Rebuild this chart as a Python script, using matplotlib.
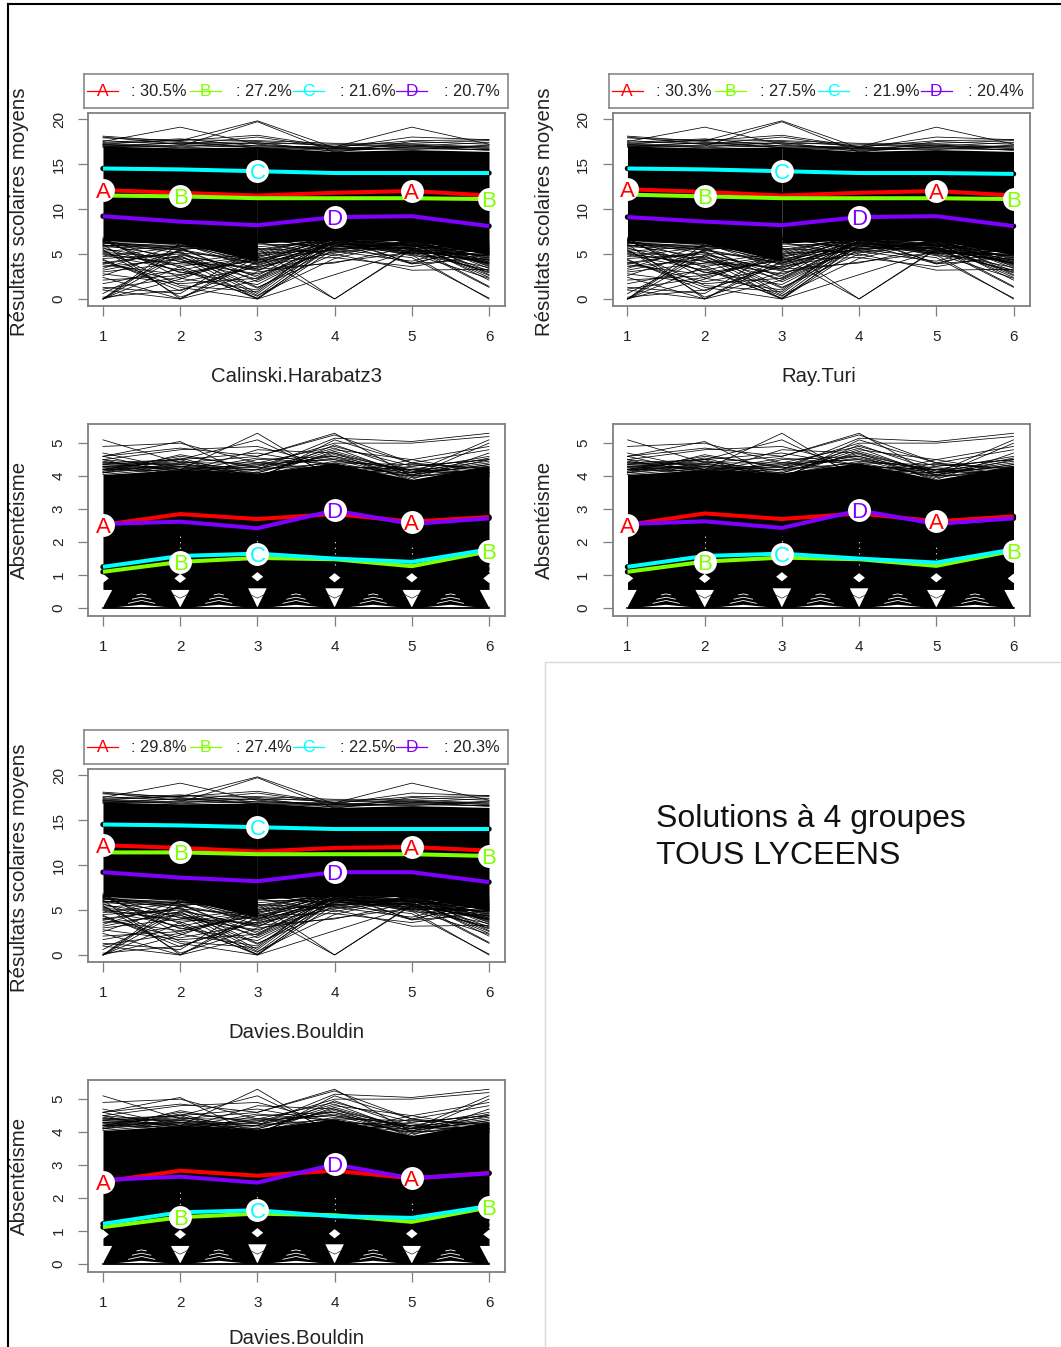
import matplotlib
matplotlib.use("Agg")
import matplotlib.pyplot as plt
from matplotlib.lines import Line2D

plt.rcParams['font.family'] = ['Liberation Sans', 'DejaVu Sans']

W, H = 1061, 1347

letters = ["A", "B", "C", "D"]
colors = ["#FF0000", "#80FF00", "#00FFFF", "#8000FF"]
x_ticks = [1, 2, 3, 4, 5, 6]

# percent of each group, per solution
pct_calinski = ["30.5", "27.2", "21.6", "20.7"]
pct_rayturi = ["30.3", "27.5", "21.9", "20.4"]
pct_davies = ["29.8", "27.4", "22.5", "20.3"]

# group means, results
res_calinski = [[12.1, 11.8, 11.5, 11.8, 12.0, 11.5],
                [11.5, 11.4, 11.2, 11.2, 11.2, 11.1],
                [14.5, 14.4, 14.2, 14.0, 14.0, 14.0],
                [9.2, 8.6, 8.2, 9.1, 9.2, 8.1]]
res_rayturi = [[12.2, 11.9, 11.5, 11.8, 12.0, 11.5],
               [11.6, 11.4, 11.2, 11.2, 11.2, 11.1],
               [14.5, 14.4, 14.2, 14.0, 14.0, 13.9],
               [9.1, 8.6, 8.2, 9.1, 9.2, 8.1]]
res_davies = [[12.2, 11.9, 11.5, 11.9, 12.0, 11.6],
              [11.4, 11.4, 11.2, 11.2, 11.2, 11.0],
              [14.5, 14.4, 14.2, 14.0, 14.0, 14.0],
              [9.2, 8.6, 8.2, 9.2, 9.2, 8.1]]

# group means, absenteeism
abs_calinski = [[2.52, 2.85, 2.70, 2.85, 2.62, 2.76],
                [1.10, 1.40, 1.52, 1.48, 1.27, 1.72],
                [1.25, 1.58, 1.65, 1.50, 1.40, 1.78],
                [2.55, 2.62, 2.42, 2.96, 2.55, 2.72]]
abs_rayturi = [[2.52, 2.87, 2.70, 2.87, 2.63, 2.78],
               [1.10, 1.41, 1.53, 1.48, 1.28, 1.74],
               [1.25, 1.58, 1.65, 1.50, 1.38, 1.78],
               [2.55, 2.63, 2.43, 2.96, 2.55, 2.72]]
abs_davies = [[2.50, 2.83, 2.68, 2.83, 2.60, 2.76],
              [1.12, 1.42, 1.53, 1.48, 1.28, 1.72],
              [1.22, 1.57, 1.63, 1.45, 1.40, 1.76],
              [2.55, 2.65, 2.47, 3.02, 2.60, 2.75]]

# solid mass of individual profiles
res_top = [17.0, 16.8, 16.9, 16.4, 16.6, 16.4]
res_bot_left = [6.5, 6.2, 4.2]
res_bot_right = [6.2, 6.6, 6.5, 4.9]
abs_top = [4.05, 4.2, 4.1, 4.4, 3.9, 4.3]

# white notches at the tick positions of the absenteeism panels
notch_x = [1, 2, 3, 4, 5, 6]
notch_top = [0.55, 0.55, 0.6, 0.6, 0.55, 0.55]
diamond_mid = [0.9, 0.9, 0.95, 0.92, 0.92, 0.9]
speck_top = [1.0, 2.2, 2.2, 2.1, 1.9, 1.0]

# white wedge and slits between ticks, as (half width, peak)
hat_half = [0.36, 0.17, 0.12, 0.06]
hat_peak = [0.10, 0.23, 0.33, 0.43]

# individual profiles visible outside the mass
res_thin = [
    [18.1, 17.5, 16.8, 16.5, 16.9, 17.0], [17.9, 17.6, 19.8, 16.8, 17.0, 16.5],
    [17.5, 19.1, 17.2, 16.7, 16.8, 16.6], [17.3, 17.6, 18.2, 16.9, 19.1, 17.2],
    [17.6, 17.2, 18.0, 16.8, 18.0, 17.7], [17.2, 17.7, 17.6, 17.3, 17.3, 17.6],
    [17.0, 17.0, 19.7, 16.3, 17.5, 17.2], [18.0, 17.2, 17.3, 17.2, 17.0, 17.4],
    [17.4, 17.8, 17.0, 16.9, 17.6, 17.7], [17.1, 17.3, 17.5, 17.0, 17.2, 16.9],
    [17.2, 16.8, 17.1, 16.6, 16.7, 16.6], [16.9, 17.1, 16.9, 16.8, 16.6, 17.1],
    [17.1, 16.9, 17.4, 16.4, 16.9, 16.8], [16.9, 17.4, 16.8, 16.7, 17.1, 16.7],
    [0.0, 6.2, 3.8, 6.2, 5.5, 4.0], [0.0, 5.6, 2.4, 6.5, 5.1, 3.2],
    [0.0, 4.8, 1.2, 5.8, 6.2, 2.6], [0.0, 3.6, 4.9, 6.7, 4.0, 5.9],
    [0.0, 2.2, 5.2, 7.0, 3.9, 6.0], [0.2, 1.0, 3.7, 6.3, 5.0, 2.3],
    [1.0, 0.0, 2.1, 5.9, 5.7, 1.3], [2.4, 0.0, 4.2, 6.8, 4.9, 0.0],
    [6.1, 0.0, 4.7, 0.0, 5.6, 6.2], [5.5, 0.2, 3.0, 4.1, 5.2, 3.5],
    [4.3, 1.3, 0.0, 2.7, 5.4, 3.0], [6.4, 3.5, 0.0, 5.6, 6.3, 2.1],
    [5.2, 4.5, 0.0, 6.2, 3.9, 4.6], [3.2, 4.8, 0.4, 4.5, 6.5, 3.8],
    [1.7, 3.3, 0.1, 6.0, 5.0, 5.4], [4.0, 5.3, 1.3, 5.0, 3.2, 3.3],
    [2.8, 1.7, 2.3, 6.5, 6.0, 4.3], [1.3, 0.6, 5.7, 0.0, 5.5, 4.8],
    [5.9, 6.2, 3.3, 4.0, 5.8, 2.9], [3.8, 2.7, 4.4, 4.6, 3.6, 5.0],
    [6.6, 4.1, 2.8, 5.3, 4.2, 6.4], [4.7, 5.8, 5.0, 7.1, 5.9, 1.4],
    [5.0, 3.9, 3.6, 5.1, 6.6, 4.1], [3.4, 6.0, 4.1, 6.4, 5.3, 5.6],
    [2.1, 2.6, 4.7, 6.9, 6.7, 3.6], [6.3, 5.1, 4.5, 5.5, 4.6, 0.1],
    [5.8, 5.5, 4.0, 6.6, 6.1, 5.2], [5.6, 4.2, 3.4, 6.1, 5.7, 3.9],
    [6.0, 4.6, 2.6, 7.0, 6.4, 4.5], [5.3, 5.9, 5.4, 6.7, 6.2, 4.7],
    [4.9, 3.2, 4.8, 5.7, 6.9, 5.3], [4.5, 5.0, 3.1, 6.9, 5.4, 4.2],
    [6.2, 5.7, 1.9, 5.9, 6.8, 2.7], [3.6, 4.4, 2.2, 6.3, 5.6, 5.7],
    [2.6, 5.4, 3.9, 7.2, 6.3, 3.1], [6.5, 2.9, 4.3, 6.8, 5.1, 4.9],
    [5.7, 3.0, 1.6, 6.0, 6.0, 5.5], [4.1, 1.9, 3.5, 6.4, 4.8, 4.4],
    [3.0, 4.0, 5.1, 5.4, 6.4, 3.7], [1.1, 2.4, 4.6, 6.6, 5.9, 5.1],
    [0.6, 4.9, 3.2, 6.2, 6.7, 3.4], [5.4, 1.5, 0.8, 7.1, 5.5, 4.0],
    [4.4, 0.9, 4.0, 5.6, 6.1, 2.4], [5.1, 3.7, 0.3, 6.5, 5.8, 5.8],
    [3.9, 5.2, 0.6, 6.8, 6.5, 4.4], [6.7, 2.3, 1.0, 6.9, 5.2, 5.0],
    [6.8, 6.4, 6.9, 5.4, 6.3, 4.6], [6.5, 6.1, 6.6, 6.1, 5.9, 5.2],
    [6.3, 5.8, 6.3, 4.8, 6.6, 3.9], [6.6, 6.0, 6.1, 5.9, 5.3, 4.8],
    [6.2, 6.3, 5.8, 6.5, 6.0, 5.6], [6.0, 5.6, 5.6, 5.2, 5.9, 4.3],
    [5.9, 5.9, 5.5, 6.8, 6.4, 5.3], [6.4, 5.4, 6.7, 5.6, 5.6, 4.1],
]
abs_thin = [
    [5.1, 4.4, 4.0, 4.1, 4.2, 4.0], [4.9, 5.0, 4.4, 4.2, 4.1, 4.3],
    [4.6, 5.05, 3.9, 4.0, 4.5, 4.1], [4.7, 4.2, 5.3, 3.9, 4.4, 4.2],
    [4.5, 4.8, 4.9, 4.3, 4.2, 4.1], [4.4, 4.5, 5.1, 4.0, 4.3, 4.5],
    [4.6, 4.85, 4.6, 5.3, 4.0, 4.1], [4.3, 4.4, 4.6, 5.25, 4.4, 4.0],
    [4.5, 4.3, 4.2, 5.15, 5.05, 5.3], [4.2, 4.6, 4.3, 5.0, 5.0, 5.2],
    [4.4, 4.2, 4.1, 4.8, 4.5, 4.9], [4.3, 4.1, 4.8, 4.7, 4.1, 5.1],
    [4.2, 4.3, 3.9, 5.1, 4.4, 4.8], [4.5, 4.0, 4.5, 4.6, 3.9, 4.7],
    [4.1, 4.4, 4.4, 4.9, 4.3, 4.5], [4.6, 4.1, 4.2, 4.4, 4.0, 5.0],
    [4.2, 4.5, 4.7, 4.3, 4.2, 4.6], [4.35, 4.25, 4.0, 4.75, 4.1, 4.4],
    [4.15, 4.35, 4.25, 4.55, 4.05, 4.35], [4.25, 4.45, 4.15, 4.65, 4.15, 4.45],
    [4.3, 4.2, 4.35, 4.5, 3.95, 4.25], [4.1, 4.3, 4.05, 4.45, 4.25, 4.15],
    [4.2, 4.15, 4.3, 4.6, 4.1, 4.55], [4.4, 4.35, 4.1, 4.7, 3.85, 4.3],
    [4.05, 4.25, 4.2, 4.85, 4.0, 4.2], [4.15, 4.55, 3.95, 4.95, 4.15, 4.05],
    [4.25, 4.05, 4.4, 4.5, 4.2, 4.1], [4.35, 4.5, 3.85, 4.4, 4.35, 4.25],
    [4.45, 4.15, 4.55, 4.35, 4.05, 4.35], [4.1, 4.65, 4.25, 4.25, 4.0, 4.5],
]


def px_rect(left, top, right, bottom):
    return [left / W, 1 - bottom / H, (right - left) / W, (bottom - top) / H]


def add_legend(left, top, pct):
    ax = plt.axes(px_rect(left, top, left + 424, top + 34))
    ax.set_xlim(0, 424)
    ax.set_ylim(0, 34)
    ax.set_xticks([])
    ax.set_yticks([])
    for s in ax.spines.values():
        s.set_color("#7f7f7f")
        s.set_linewidth(1.1)
    starts = [3, 106, 209, 312]
    text_x = [47, 152, 256, 360]
    for i in range(4):
        ax.plot([starts[i], starts[i] + 31], [17, 17], color=colors[i], lw=0.9)
        ax.text(starts[i] + 15.5, 16.5, letters[i], color=colors[i], fontsize=12.5,
                ha="center", va="center")
        ax.text(text_x[i], 16.5, f": {pct[i]}%", color="#222222", fontsize=11.8,
                ha="left", va="center")


def style_axes(ax, yticks, ylabel, ylabel_y=0.5):
    ax.set_xticks(x_ticks)
    ax.set_yticks(yticks)
    ax.tick_params(labelcolor="#222222", labelsize=11, length=7, width=0.9,
                   color="#7f7f7f")
    ax.tick_params(axis="x", pad=10.5)
    ax.tick_params(axis="y", pad=9)
    for lab in ax.get_yticklabels():
        lab.set_rotation(90)
        lab.set_va("center")
    for s in ax.spines.values():
        s.set_color("#7f7f7f")
        s.set_linewidth(1.3)
    ax.set_ylabel(ylabel, fontsize=14.7, color="#222222")
    ax.yaxis.set_label_coords(-0.141, ylabel_y)


def draw_groups(ax, means):
    for i in range(4):
        ax.plot(x_ticks, means[i], color="black", lw=3.9, solid_capstyle="round", zorder=4)
    for i in range(4):
        ax.plot(x_ticks, means[i], color=colors[i], lw=2.9, solid_capstyle="butt", zorder=5)
    marks = [[0, 4], [1, 5], [2], [3]]
    for i in range(4):
        for k in marks[i]:
            ax.plot(x_ticks[k], means[i][k], "o", ms=16.5, color="white", mec="none", zorder=6)
            ax.text(x_ticks[k], means[i][k], letters[i], color=colors[i], fontsize=16,
                    ha="center", va="center_baseline", zorder=7)


def results_panel(left, top, means, pct, label, label_x=0.5):
    add_legend(left - 4, top - 39, pct)
    ax = plt.axes(px_rect(left, top, left + 417, top + 193))
    ax.set_xlim(0.806, 6.207)
    ax.set_ylim(-0.78, 20.67)
    ax.fill_between(x_ticks[:3], res_bot_left, res_top[:3], color="black", lw=0, zorder=1)
    ax.fill_between(x_ticks[2:], res_bot_right, res_top[2:], color="black", lw=0, zorder=1)
    for row in res_thin:
        ax.plot(x_ticks, row, color="black", lw=0.55, zorder=2)
    draw_groups(ax, means)
    style_axes(ax, [0, 5, 10, 15, 20], "Résultats scolaires moyens", 0.49)
    ax.set_xlabel(label, fontsize=14.7, color="#222222", labelpad=16, x=label_x)


def absence_panel(left, top, means, label=None):
    ax = plt.axes(px_rect(left, top, left + 417, top + 192))
    ax.set_xlim(0.806, 6.207)
    ax.set_ylim(-0.24, 5.58)
    ax.fill_between(x_ticks, 0, abs_top, color="black", lw=0, zorder=1)
    for k in range(len(notch_x)):
        x = notch_x[k]
        ax.fill([x - 0.12, x + 0.12, x], [notch_top[k], notch_top[k], 0.02], color="white", lw=0, zorder=2)
        m = diamond_mid[k]
        ax.fill([x - 0.075, x, x + 0.075, x], [m, m + 0.14, m, m - 0.14], color="white", lw=0, zorder=2)
        ax.plot([x, x], [m + 0.4, speck_top[k]], color="white", lw=0.8, ls=(0, (1, 4)), zorder=2)
    # curves seen inside the notches
    for x in notch_x[1:5]:
        ax.plot([x - 0.1, x, x + 0.1], [0.42, 0.3, 0.42], color="black", lw=0.4, zorder=2)
    for x in x_ticks[:5]:
        mid = x + 0.5
        ax.fill([mid - hat_half[0], mid, mid + hat_half[0]], [0.02, hat_peak[0], 0.02],
                color="white", lw=0, zorder=2)
        for j in range(1, 4):
            ax.plot([mid - hat_half[j], mid, mid + hat_half[j]],
                    [hat_peak[j] - 0.5 * hat_half[j], hat_peak[j], hat_peak[j] - 0.5 * hat_half[j]],
                    color="white", lw=0.6, zorder=2)
    ax.plot([1, 6], [0, 0], color="black", lw=1.2, zorder=3)
    for row in abs_thin:
        ax.plot(x_ticks, row, color="black", lw=0.55, zorder=3)
    draw_groups(ax, means)
    style_axes(ax, [0, 1, 2, 3, 4, 5], "Absentéisme")
    if label:
        ax.set_xlabel(label, fontsize=14.7, color="#222222", labelpad=13.5)


fig = plt.figure(figsize=(W / 100, H / 100), dpi=100)

results_panel(88, 113, res_calinski, pct_calinski, "Calinski.Harabatz3")
results_panel(612.5, 113, res_rayturi, pct_rayturi, "Ray.Turi", 0.494)
absence_panel(88, 424, abs_calinski)
absence_panel(612.5, 424, abs_rayturi)
results_panel(88, 769, res_davies, pct_davies, "Davies.Bouldin")
absence_panel(88, 1080, abs_davies, "Davies.Bouldin")

# screenshot frame lines
fig.add_artist(Line2D([8 / W, 8 / W], [0, 1 - 4 / H], color="black", lw=1.5))
fig.add_artist(Line2D([8 / W, 1], [1 - 4 / H, 1 - 4 / H], color="black", lw=1.5))
fig.add_artist(Line2D([544.5 / W, 544.5 / W], [0, 1 - 662 / H], color="#d9d9d9", lw=1))
fig.add_artist(Line2D([544.5 / W, 1], [1 - 662 / H, 1 - 662 / H], color="#d9d9d9", lw=1))

fig.text(656 / W, 1 - 819 / H, "Solutions à 4 groupes", fontsize=23, color="#111111", va="center")
fig.text(656 / W, 1 - 856 / H, "TOUS LYCEENS", fontsize=23, color="#111111", va="center")

plt.savefig("out.png", dpi=100)
